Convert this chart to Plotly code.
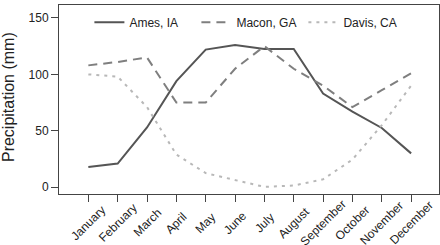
import plotly.graph_objects as go

months = ["January", "February", "March", "April", "May", "June", "July",
          "August", "September", "October", "November", "December"]
ames = [18, 21, 53, 94, 122, 126, 122.5, 122.5, 83, 67, 52.5, 30]
macon = [108, 111, 115, 75, 75, 105, 125, 105, 90, 71, 86, 101]
davis = [100, 98, 71, 29, 12.5, 6.5, 0.3, 1.5, 7, 24.5, 55, 90]
yticks = [0, 50, 100, 150]
ytitle = "Precipitation (mm)"

xidx = list(range(1, 13))
font = "Liberation Sans, Arial, sans-serif"
txt = "#222222"

fig = go.Figure()
fig.add_trace(go.Scatter(x=xidx, y=ames, mode="lines", name="Ames, IA",
                         line=dict(color="#555555", width=2, dash="solid")))
fig.add_trace(go.Scatter(x=xidx, y=macon, mode="lines", name="Macon, GA",
                         line=dict(color="#7f7f7f", width=2, dash="9px,6px")))
fig.add_trace(go.Scatter(x=xidx, y=davis, mode="lines", name="Davis, CA",
                         line=dict(color="#b8b8b8", width=2, dash="3px,5px")))

# rotated month labels, centred under each tick
for i, m in zip(xidx, months):
    fig.add_annotation(x=i, y=0, xref="x", yref="paper", text=m, showarrow=False,
                       textangle=-45, xanchor="center", yanchor="middle",
                       yshift=-29, font=dict(size=12, color=txt))

fig.add_annotation(x=0, y=0.513, xref="paper", yref="paper", text=ytitle,
                   showarrow=False, textangle=-90, xanchor="center",
                   yanchor="middle", xshift=-51, font=dict(size=16, color=txt))

fig.update_layout(
    template="none",
    width=440, height=245,
    margin=dict(l=59, r=1, t=5, b=51, autoexpand=False),
    paper_bgcolor="white", plot_bgcolor="white",
    font=dict(family=font, size=12, color=txt),
    showlegend=True,
    legend=dict(orientation="h", x=0.08, y=0.985, xanchor="left", yanchor="top",
                bgcolor="rgba(0,0,0,0)", font=dict(size=12, color=txt),
                entrywidth=62, entrywidthmode="pixels", itemwidth=30),
    xaxis=dict(range=[0.0, 12.95], tickmode="array", tickvals=xidx,
               showticklabels=False,
               ticks="outside", ticklen=7, tickcolor="#444444",
               showgrid=False, zeroline=False, showline=True, linecolor="#444444",
               mirror=True, linewidth=1, automargin=False),
    yaxis=dict(range=[-6, 161.5], tickmode="array", tickvals=yticks,
               ticks="outside", ticklen=7, tickcolor="#444444",
               showgrid=False, zeroline=False, showline=True, linecolor="#444444",
               mirror=True, linewidth=1, tickfont=dict(size=12, color=txt),
               automargin=False),
)

fig.write_html("out.html", config={"displayModeBar": False},
               post_script="document.body.style.margin='0px';")
